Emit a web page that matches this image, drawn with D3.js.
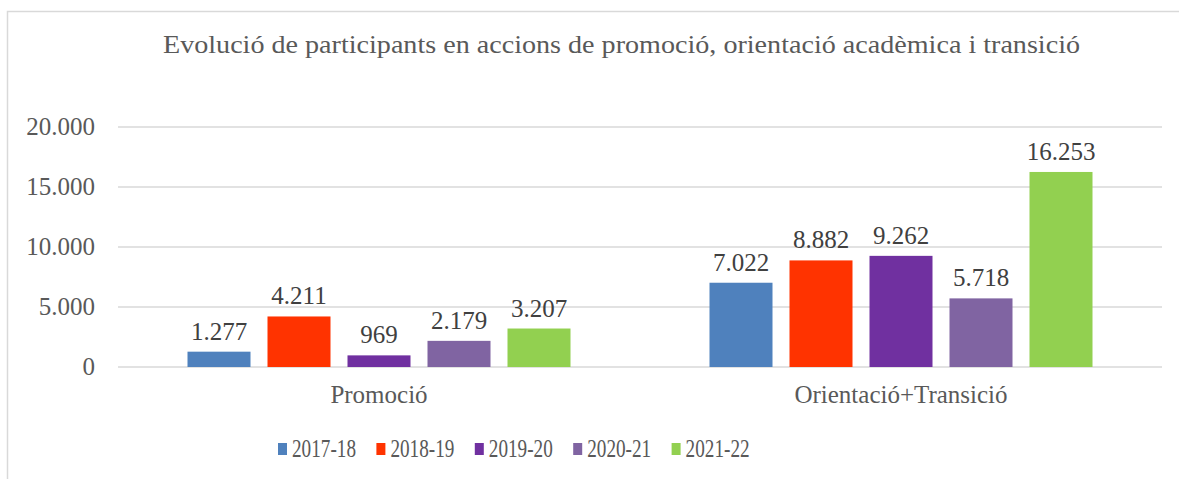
<!DOCTYPE html>
<html>
<head>
<meta charset="utf-8">
<script src="https://cdn.jsdelivr.net/npm/d3@7"></script>
<style>
  body { margin: 0; background: #fff; }
  svg text { font-family: "Liberation Serif", serif; }
</style>
</head>
<body>
<svg id="chart" width="1179" height="479"></svg>
<script>
const categories = ['Promoció', 'Orientació+Transició'];
const years = ['2017-18', '2018-19', '2019-20', '2020-21', '2021-22'];
const promocio = [1277, 4211, 969, 2179, 3207];
const orientacio = [7022, 8882, 9262, 5718, 16253];
const yTicks = [0, 5000, 10000, 15000, 20000];
const colors = ['#4F81BD', '#FF3300', '#7030A0', '#8064A2', '#92D050'];
const title = 'Evolució de participants en accions de promoció, orientació acadèmica i transició';

const seriesByCat = [promocio, orientacio];

const svg = d3.select('#chart');
const plotLeft = 118, plotRight = 1162, plotTop = 127, plotBottom = 367;

// chart border
svg.append('rect')
    .attr('x', 7.5).attr('y', 11.5)
    .attr('width', 1200).attr('height', 500)
    .attr('fill', 'none')
    .attr('stroke', '#d9d9d9')
    .attr('stroke-width', 1.5);

svg.append('text')
    .attr('x', 621.5).attr('y', 53)
    .attr('text-anchor', 'middle')
    .attr('font-size', 25)
    .attr('textLength', 917)
    .attr('lengthAdjust', 'spacingAndGlyphs')
    .attr('fill', '#595959')
    .text(title);

let y = d3.scaleLinear().domain([0, 20000]).range([plotBottom, plotTop]);
let x0 = d3.scaleBand().domain(categories).range([plotLeft, plotRight]);
let gap = (x0.bandwidth() - 383) / 2;
let x1 = d3.scaleBand().domain(years)
    .range([gap, x0.bandwidth() - gap])
    .paddingInner(0.2125).paddingOuter(0);

const fmt = d3.formatLocale({ decimal: ',', thousands: '.', grouping: [3] }).format(',d');

// gridlines
svg.append('g').selectAll('line')
    .data(yTicks)
    .enter().append('line')
    .attr('x1', plotLeft).attr('x2', plotRight)
    .attr('y1', d => y(d)).attr('y2', d => y(d))
    .attr('stroke', '#d9d9d9')
    .attr('stroke-width', 1.5);

// y axis labels
svg.append('g').selectAll('text')
    .data(yTicks)
    .enter().append('text')
    .attr('x', 95)
    .attr('y', d => y(d) + 8)
    .attr('text-anchor', 'end')
    .attr('font-size', 25)
    .attr('fill', '#595959')
    .text(d => fmt(d));

// bars
let groups = svg.selectAll('.grp')
    .data(categories)
    .enter().append('g')
    .attr('class', 'grp')
    .attr('transform', d => `translate(${x0(d)},0)`);

groups.selectAll('rect')
    .data((c, i) => seriesByCat[i].map((v, j) => ({ year: years[j], value: v, color: colors[j] })))
    .enter().append('rect')
    .attr('x', d => x1(d.year))
    .attr('y', d => y(d.value))
    .attr('width', x1.bandwidth())
    .attr('height', d => plotBottom - y(d.value))
    .attr('fill', d => d.color);

groups.selectAll('text.val')
    .data((c, i) => seriesByCat[i].map((v, j) => ({ year: years[j], value: v })))
    .enter().append('text')
    .attr('class', 'val')
    .attr('x', d => x1(d.year) + x1.bandwidth() / 2)
    .attr('y', d => y(d.value) - 12)
    .attr('text-anchor', 'middle')
    .attr('font-size', 25)
    .attr('fill', '#404040')
    .text(d => fmt(d.value));

// category labels
svg.append('g').selectAll('text')
    .data(categories)
    .enter().append('text')
    .attr('x', d => x0(d) + x0.bandwidth() / 2)
    .attr('y', 403)
    .attr('text-anchor', 'middle')
    .attr('font-size', 25)
    .attr('fill', '#595959')
    .text(d => d);

// legend
let legend = svg.append('g').selectAll('g')
    .data(years)
    .enter().append('g')
    .attr('transform', (d, i) => `translate(${278 + i * 98.4},0)`);

legend.append('rect')
    .attr('x', 0).attr('y', 443)
    .attr('width', 9).attr('height', 12)
    .attr('fill', (d, i) => colors[i]);

legend.append('text')
    .attr('x', 14).attr('y', 457)
    .attr('font-size', 25)
    .attr('textLength', 64)
    .attr('lengthAdjust', 'spacingAndGlyphs')
    .attr('fill', '#595959')
    .text(d => d);
</script>
</body>
</html>
